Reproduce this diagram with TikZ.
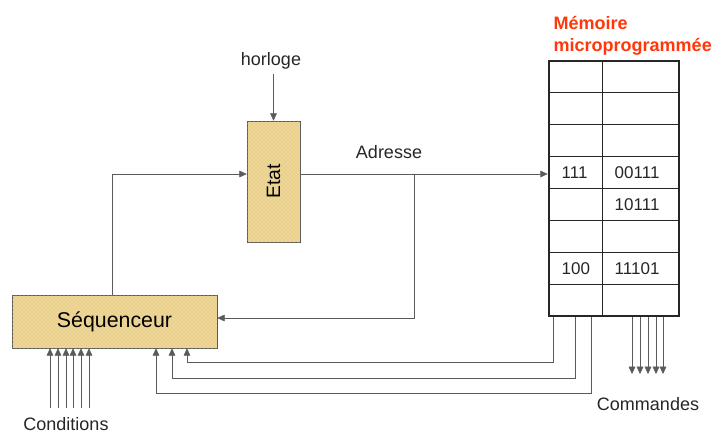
\documentclass[tikz,border=0pt]{standalone}
\usepackage{fontspec}
\setmainfont{Liberation Sans}
\usepackage{tikz}
\usetikzlibrary{arrows.meta,positioning,patterns}
\definecolor{unittan}{RGB}{238,214,150}
\definecolor{unitgold}{RGB}{205,160,60}
\definecolor{wiregray}{RGB}{90,90,90}
\definecolor{memred}{RGB}{255,55,10}

\begin{document}
\begin{tikzpicture}[x=0.75pt,y=-0.75pt,
  unit/.style={draw=wiregray,fill=unittan,inner sep=0pt,
               postaction={pattern=crosshatch dots,pattern color=unitgold!70}},
  lbl/.style={font=\fontsize{13.5}{16}\selectfont,text=black!85},
  cell/.style={anchor=west,font=\fontsize{12.75}{15}\selectfont,text=black!85},
  arr/.style={draw=wiregray,-{Triangle[length=5.5pt,width=5pt]}}]
\useasboundingbox (0,0) rectangle (716,436);
\node[unit,minimum width=153.75pt,minimum height=39.75pt,
      font=\fontsize{16}{19}\selectfont] (seq) at (114.5,321.5) {Séquenceur};
\node[unit,minimum width=39.75pt,minimum height=90.75pt] (etat) at (273.5,181.5) {};
\node[rotate=90,font=\fontsize{14.5}{17}\selectfont] at (etat.center) {Etat};
\node[draw=black!85,line width=2pt,minimum width=97.5pt,minimum height=191.25pt,
      inner sep=0pt] (mem) at (614,188.5) {};
\foreach \k in {1,...,7}
  \draw[black!85,line width=0.7pt] (549,{61+31.875*\k}) -- (679,{61+31.875*\k});
\draw[black!85,line width=0.7pt] (602,61) -- (602,316);
\node[cell] (a111) at (557,173) {111};
\node[cell] (w1) at (610,173) {00111};
\node[cell] (w2) at (610,205) {10111};
\node[cell] (a100) at (557,269) {100};
\node[cell] (w3) at (610,269) {11101};
\node[anchor=west,align=left,text=memred,font=\bfseries\fontsize{13.5}{16.5}\selectfont]
  (title) at (549,36) {Mémoire\\microprogrammée};
\node[lbl] (clk) at (271,61) {horloge};
\node[lbl] (adrlbl) at (389,152) {Adresse};
\node[lbl] (cndlbl) at (66,424) {Conditions};
\node[lbl] (cmdlbl) at (648,404) {Commandes};
\coordinate (adr) at (414,174);
\draw[arr] (clk.south -| etat.north) -- (etat.north);
\draw[arr] (seq.north -| 112,0) |- (etat.west |- adr);
\draw[arr] (etat.east |- adr) -- (mem.west |- adr);
\draw[arr] (adr) |- (seq.east |- 0,318);
\draw[arr] (mem.south -| 553,0) -- (553,362) -| (seq.south -| 187,0);
\draw[arr] (mem.south -| 575,0) -- (575,378) -| (seq.south -| 172,0);
\draw[arr] (mem.south -| 591,0) -- (591,393) -| (seq.south -| 156,0);
\foreach \x [count=\i] in {50,58,66,73,81,89} {
  \coordinate (cnd\i) at (\x,408);
  \draw[arr] (cnd\i) -- (seq.south -| cnd\i);
}
\foreach \x [count=\i] in {632,640,648,656,663} {
  \coordinate (cmd\i) at (\x,374);
  \draw[arr] (mem.south -| cmd\i) -- (cmd\i);
}
\end{tikzpicture}
\end{document}
